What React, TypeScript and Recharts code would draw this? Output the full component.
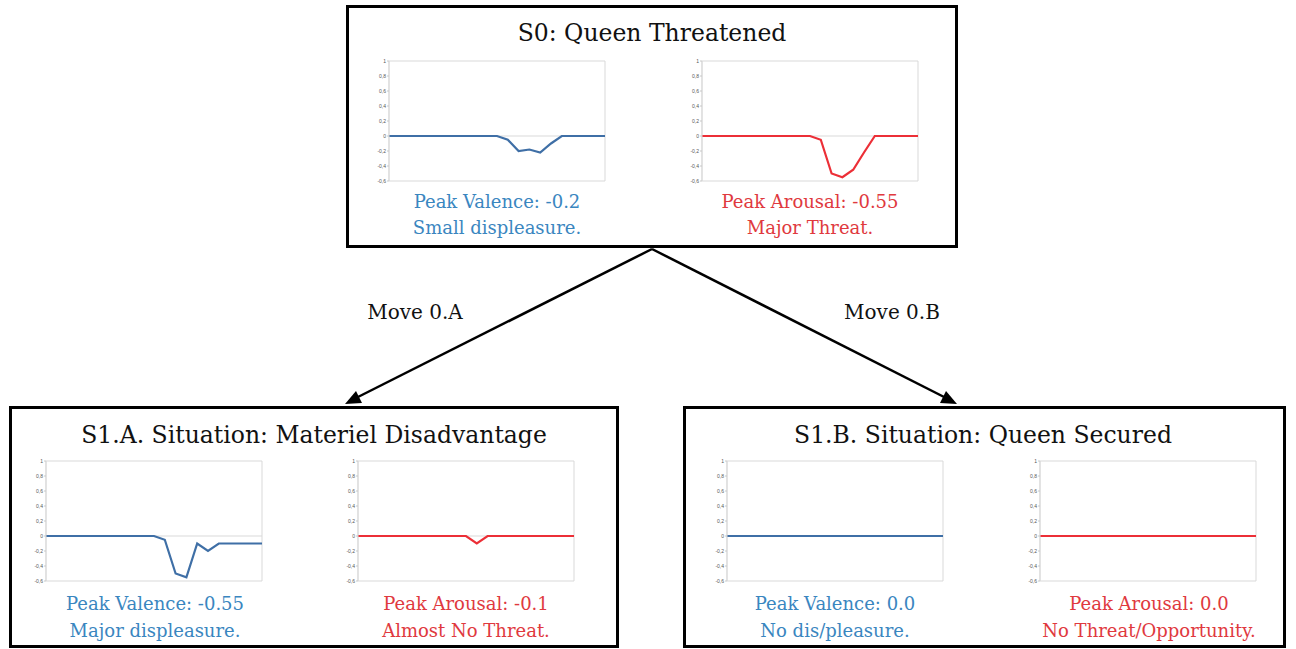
import { LineChart, Line, XAxis, YAxis, ReferenceArea, ReferenceLine } from "recharts";

const frames = [1, 2, 3, 4, 5, 6, 7, 8, 9, 10, 11, 12, 13, 14, 15, 16, 17, 18, 19, 20, 21];
const yTicks = [-0.6, -0.4, -0.2, 0, 0.2, 0.4, 0.6, 0.8, 1];

const s0Valence = [0, 0, 0, 0, 0, 0, 0, 0, 0, 0, 0, -0.05, -0.2, -0.18, -0.22, -0.1, 0, 0, 0, 0, 0];
const s0Arousal = [0, 0, 0, 0, 0, 0, 0, 0, 0, 0, 0, -0.05, -0.5, -0.55, -0.45, -0.22, 0, 0, 0, 0, 0];
const s1aValence = [0, 0, 0, 0, 0, 0, 0, 0, 0, 0, 0, -0.05, -0.5, -0.55, -0.1, -0.2, -0.1, -0.1, -0.1, -0.1, -0.1];
const s1aArousal = [0, 0, 0, 0, 0, 0, 0, 0, 0, 0, 0, -0.1, 0, 0, 0, 0, 0, 0, 0, 0, 0];
const s1bValence = [0, 0, 0, 0, 0, 0, 0, 0, 0, 0, 0, 0, 0, 0, 0, 0, 0, 0, 0, 0, 0];
const s1bArousal = [0, 0, 0, 0, 0, 0, 0, 0, 0, 0, 0, 0, 0, 0, 0, 0, 0, 0, 0, 0, 0];

const BLUE_LINE = "#3f6fa6";
const RED_LINE = "#ec2f37";
const BLUE_TEXT = "#3a86bf";
const RED_TEXT = "#e0393e";
const SERIF = '"DejaVu Serif", serif';

const PLOT_W = 216;
const PLOT_H = 120;
const M = { top: 5, right: 5, bottom: 5, left: 0 };
const AXIS_W = 14;

// little tick marks sitting under the zero line
const ZeroTick = ({ x }: any) => {
  const zy = M.top + PLOT_H * (1 / 1.6);
  return <line x1={x} x2={x} y1={zy} y2={zy + 2} stroke="#c8c8c8" strokeWidth={0.8} />;
};

function MiniChart({ values, color, left, top }: { values: number[]; color: string; left: number; top: number }) {
  const data = frames.map((f, i) => ({ f, v: values[i] }));
  return (
    <div style={{ position: "absolute", left: left - AXIS_W, top: top - M.top }}>
      <LineChart width={AXIS_W + PLOT_W + M.right} height={M.top + PLOT_H + M.bottom} data={data} margin={M}>
        <XAxis
          dataKey="f"
          type="number"
          domain={[1, 21]}
          ticks={frames}
          axisLine={false}
          tickLine={false}
          tick={<ZeroTick />}
          height={0}
          interval={0}
        />
        <YAxis
          domain={[-0.6, 1]}
          ticks={yTicks}
          width={AXIS_W}
          interval={0}
          axisLine={{ stroke: "#d9d9d9" }}
          tickLine={{ stroke: "#c8c8c8" }}
          tickSize={2}
          tickMargin={1}
          tick={{ fontSize: 5, fill: "#555", fontFamily: "'Liberation Sans', sans-serif" }}
          tickFormatter={(v: number) => String(Math.round(v * 10) / 10).replace(".", ",")}
        />
        <ReferenceArea x1={1} x2={21} y1={-0.6} y2={1} fill="none" stroke="#d9d9d9" strokeWidth={1} />
        <ReferenceLine y={0} stroke="#d9d9d9" />
        <Line type="linear" dataKey="v" stroke={color} strokeWidth={2.2} dot={false} isAnimationActive={false} />
      </LineChart>
    </div>
  );
}

function Label({ x, y, size, color, children }: { x: number; y: number; size: number; color: string; children: any }) {
  return (
    <div
      style={{
        position: "absolute",
        left: x - 250,
        width: 500,
        top: y - size * 0.6,
        textAlign: "center",
        fontFamily: SERIF,
        fontSize: size,
        lineHeight: `${size * 1.2}px`,
        color,
        whiteSpace: "nowrap",
      }}
    >
      {children}
    </div>
  );
}

function Box({ left, top, width, height }: { left: number; top: number; width: number; height: number }) {
  return (
    <div
      style={{
        position: "absolute",
        left,
        top,
        width: width - 6,
        height: height - 6,
        border: "3px solid #000",
        background: "#fff",
      }}
    />
  );
}

export default function App() {
  return (
    <div style={{ position: "absolute", left: 0, top: 0, width: 1296, height: 649, background: "#fff", overflow: "hidden" }}>
      <svg width={1296} height={649} style={{ position: "absolute", left: 0, top: 0 }}>
        <line x1={652} y1={249} x2={352} y2={400} stroke="#000" strokeWidth={2.5} />
        <polygon points="345,404 356,391 362,403" fill="#000" />
        <line x1={652} y1={249} x2={950} y2={400} stroke="#000" strokeWidth={2.5} />
        <polygon points="957,404 946,391 940,403" fill="#000" />
      </svg>

      <Box left={346} top={5} width={612} height={243} />
      <Box left={9} top={406} width={610} height={242} />
      <Box left={683} top={406} width={603} height={242} />

      <Label x={652} y={33} size={23.5} color="#111">S0: Queen Threatened</Label>
      <MiniChart values={s0Valence} color={BLUE_LINE} left={389} top={61} />
      <MiniChart values={s0Arousal} color={RED_LINE} left={702} top={61} />
      <Label x={497} y={202} size={18} color={BLUE_TEXT}>Peak Valence: -0.2</Label>
      <Label x={497} y={228} size={18} color={BLUE_TEXT}>Small displeasure.</Label>
      <Label x={810} y={202} size={18} color={RED_TEXT}>Peak Arousal: -0.55</Label>
      <Label x={810} y={228} size={18} color={RED_TEXT}>Major Threat.</Label>

      <Label x={415} y={312} size={20} color="#111">Move 0.A</Label>
      <Label x={892} y={312} size={20} color="#111">Move 0.B</Label>

      <Label x={314} y={435} size={23.5} color="#111">S1.A. Situation: Materiel Disadvantage</Label>
      <MiniChart values={s1aValence} color={BLUE_LINE} left={46} top={461} />
      <MiniChart values={s1aArousal} color={RED_LINE} left={358} top={461} />
      <Label x={155} y={604} size={18} color={BLUE_TEXT}>Peak Valence: -0.55</Label>
      <Label x={155} y={631} size={18} color={BLUE_TEXT}>Major displeasure.</Label>
      <Label x={466} y={604} size={18} color={RED_TEXT}>Peak Arousal: -0.1</Label>
      <Label x={466} y={631} size={18} color={RED_TEXT}>Almost No Threat.</Label>

      <Label x={983} y={435} size={23.5} color="#111">S1.B. Situation: Queen Secured</Label>
      <MiniChart values={s1bValence} color={BLUE_LINE} left={727} top={461} />
      <MiniChart values={s1bArousal} color={RED_LINE} left={1040} top={461} />
      <Label x={835} y={604} size={18} color={BLUE_TEXT}>Peak Valence: 0.0</Label>
      <Label x={835} y={631} size={18} color={BLUE_TEXT}>No dis/pleasure.</Label>
      <Label x={1149} y={604} size={18} color={RED_TEXT}>Peak Arousal: 0.0</Label>
      <Label x={1149} y={631} size={18} color={RED_TEXT}>No Threat/Opportunity.</Label>
    </div>
  );
}
